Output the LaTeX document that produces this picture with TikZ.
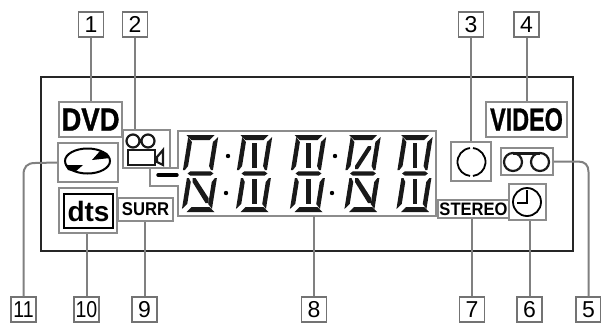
\documentclass[tikz,border=0pt]{standalone}
\usepackage{fontspec}
\setmainfont{Liberation Sans}
\newfontfamily\lcdheavy[FakeBold=1.2]{Liberation Sans Bold}
\usetikzlibrary{shapes.geometric}
\tikzset{
 numbox/.style={draw=black!55,line width=1.3pt,fill=white,minimum size=25pt,inner sep=0pt,font=\fontsize{23}{23}\selectfont},
 iconbox/.style={draw=black!45,line width=1.8pt,fill=white,inner sep=0pt},
 leader/.style={draw=black!50,line width=2pt},
 lcdseg/.style={fill=black!90},
 lcdline/.style={draw=black!90,line width=2.2pt}
}
\newcommand{\nar}[2]{\scalebox{#1}[1]{#2}}
\begin{document}
\begin{tikzpicture}[x=1pt,y=-1pt]
 \useasboundingbox (0,0) rectangle (601,322);
 \fill[white] (0,0) rectangle (601,322);
 % panel
 \draw[black!85,line width=2pt] (41,77) rectangle (573,251);
 % window of the digits
 \draw[black!45,line width=1.8pt] (150,168) -- (150,186) -- (178,186) -- (178,216) -- (436,216) -- (436,131) -- (178,131) -- (178,168) -- cycle;
 \coordinate (winb) at (314,216);
 % indicators
 \node[iconbox,minimum width=63pt,minimum height=35pt,font=\fontsize{32}{32}\lcdheavy] (dvd) at (90.5,119.5) {\nar{.86}{DVD}};
 \node[iconbox,minimum width=47pt,minimum height=38pt] (camera) at (146.5,149) {};
 \node[iconbox,minimum width=60pt,minimum height=39pt] (disc) at (88,162.5) {};
 \node[iconbox,minimum width=58pt,minimum height=45pt] (dtsout) at (88,210.5) {};
 \node[draw=black,line width=2.2pt,minimum width=49pt,minimum height=34pt,inner sep=0pt,font=\fontsize{28}{28}\bfseries] (dts) at (88.5,211) {dts};
 \node[iconbox,minimum width=55pt,minimum height=23pt,font=\fontsize{18.5}{18.5}\selectfont\bfseries] (surr) at (145.5,209.5) {\nar{.9}{SURR}};
 \node[iconbox,minimum width=40pt,minimum height=39pt] (ring) at (471,161.5) {};
 \node[iconbox,minimum width=81pt,minimum height=35pt,font=\fontsize{32}{32}\lcdheavy] (video) at (526.5,119.5) {\nar{.73}{VIDEO}};
 \node[iconbox,minimum width=52pt,minimum height=27pt] (tape) at (527,161.5) {};
 \node[iconbox,minimum width=71pt,minimum height=18pt,font=\fontsize{18}{18}\selectfont\bfseries] (stereo) at (473.5,209) {\nar{.92}{STEREO}};
 \node[iconbox,minimum width=37pt,minimum height=36pt] (clock) at (527.5,202) {};
 % callouts
 \node[numbox] (n1) at (91,24.5) {1};
 \node[numbox] (n2) at (135,24.5) {2};
 \node[numbox] (n3) at (471,24.5) {3};
 \node[numbox] (n4) at (526.5,24.5) {4};
 \node[numbox] (n5) at (588.5,309.5) {5};
 \node[numbox] (n6) at (529.5,309.5) {6};
 \node[numbox] (n7) at (472,309.5) {7};
 \node[numbox] (n8) at (314,309.5) {8};
 \node[numbox] (n9) at (144.5,309.5) {9};
 \node[numbox] (n10) at (86.5,309.5) {\nar{.85}{10}};
 \node[numbox] (n11) at (23.5,309.5) {\nar{.85}{11}};
 \draw[leader] (n1) -- (n1 |- dvd.north);
 \draw[leader] (n2) -- (n2 |- camera.north);
 \draw[leader] (n3) -- (n3 |- ring.north);
 \draw[leader] (n4) -- (n4 |- video.north);
 \draw[leader] (tape.east) -- (578,161.5) .. controls (585,161.5) and (588.5,165) .. (588.5,172) -- (n5);
 \draw[leader] (n6) -- (n6 |- clock.south);
 \draw[leader] (n7) -- (n7 |- stereo.south);
 \draw[leader] (n8) -- (winb);
 \draw[leader] (n9) -- (n9 |- surr.south);
 \draw[leader] (n10) -- (n10 |- dtsout.south);
 \draw[leader] (disc.west) -- (35,163) .. controls (27,163) and (23.5,167) .. (23.5,175) -- (n11);
 % digits
 \foreach \cx in {200.5,254.5,308.5,363,415}{
  \begin{scope}[shift={(\cx,173.5)}]
   \foreach \sy in {1,-1}
    \fill[lcdseg,yscale=\sy] (-14,-38.5) -- (14,-38.5) -- (9,-33.5) -- (-9,-33.5) -- cycle;
   \fill[lcdseg] (-13,0) -- (-10,-2.2) -- (10,-2.2) -- (13,0) -- (10,2.2) -- (-10,2.2) -- cycle;
  \end{scope}
  \foreach \sx in {1,-1}{
   \begin{scope}[shift={(\cx,154)},xslant=.16]
    \fill[lcdseg,xscale=\sx] (-15,-17) -- (-10.5,-12) -- (-10.5,12) -- (-13,16) -- (-15,16) -- cycle;
   \end{scope}
   \begin{scope}[shift={(\cx-1,193)},xslant=.16]
    \fill[lcdseg,xscale=\sx] (-15,-15) -- (-13,-15) -- (-10.5,-11) -- (-10.5,11) -- (-15,16) -- cycle;
   \end{scope}
  }
 }
 % inner strokes
 \foreach \cx in {254.5,308.5,415}{
  \fill[lcdseg] (\cx-2.3,143) rectangle (\cx+2.3,168);
  \fill[lcdseg] (\cx-2.3,179) rectangle (\cx+2.3,204);
 }
 \fill[lcdseg] (355,169) -- (355,166) -- (368,146) -- (371,146) -- (371,149) -- (358,169) -- cycle;
 \foreach \cx in {200.5,363}
  \fill[lcdseg] (\cx-8,178) -- (\cx-5,178) -- (\cx+8,198) -- (\cx+8,203) -- (\cx+5,203) -- (\cx-8,182) -- cycle;
 \foreach \dx/\dy in {228/156,335/156,226/193,332/193}{\fill[black] (\dx,\dy) circle (2.2);}
 % the minus
 \draw[black,line width=3.4pt,line cap=round] (158,175) -- (177,175);
 % camera
 \draw[lcdline] (133,141) circle (6.5) (148,141) circle (6.5);
 \draw[lcdline] (128,150) rectangle (155,165);
 \draw[lcdline] (157,157) -- (163,150) -- (163,165) -- (157,162) -- cycle;
 % disc
 \draw[black,line width=2pt] (87.5,161) ellipse (22.5 and 12.5);
 \fill[black] (92,160) -- (110,158) -- (107,153) -- (100,151) -- cycle;
 \fill[black] (83,165) -- (65,165) -- (68,170) -- (75,172) -- cycle;
 % ring
 \draw[black,line width=1.8pt] ([shift={(-96:14)}]471.5,162) arc (-96:-264:14);
 \draw[black,line width=1.8pt] ([shift={(-84:14)}]471.5,162) arc (-84:84:14);
 % tape
 \draw[lcdline] (513,162) circle (9) (540,162) circle (9);
 \draw[lcdline] (513,153.5) -- (540,153.5);
 % clock
 \draw[black,line width=1.8pt] (527,202) circle (14);
 \draw[black,line width=1.8pt] (527,190) -- (527,203) -- (517,203);
\end{tikzpicture}
\end{document}
